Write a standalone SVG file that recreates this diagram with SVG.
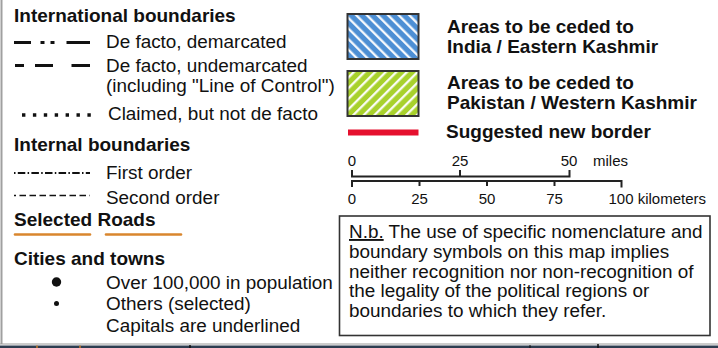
<svg xmlns="http://www.w3.org/2000/svg" width="718" height="348" viewBox="0 0 718 348">
<style>
text{font-family:"Liberation Sans",Arial,Helvetica,sans-serif;fill:#111}
.b{font-weight:bold;font-size:19px}
.r{font-size:18.9px}
.s{font-size:15px}
.ln{stroke:#111;fill:none}
.sc{stroke:#222;stroke-width:2;fill:none}
.road{stroke:#d9862e;stroke-width:2.6;stroke-linecap:round;fill:none}
</style>
<defs>
<pattern id="blueHatch" patternUnits="userSpaceOnUse" width="7.5" height="7.5" patternTransform="rotate(-45)">
<rect width="7.5" height="7.5" fill="#4d8fd4"/>
<line x1="1.2" y1="-1" x2="1.2" y2="9" stroke="#fff" stroke-width="2.2"/>
</pattern>
<pattern id="greenHatch" patternUnits="userSpaceOnUse" width="7.5" height="7.5" patternTransform="rotate(45)">
<rect width="7.5" height="7.5" fill="#a8d12c"/>
<line x1="1.2" y1="-1" x2="1.2" y2="9" stroke="#fff" stroke-width="2.2"/>
</pattern>
</defs>
<rect x="0" y="0" width="718" height="348" fill="#fff"/>
<g id="frame">
<line x1="1.5" y1="0" x2="1.5" y2="344" stroke="#a0a0a0" stroke-width="2"/>
<line x1="0" y1="344" x2="718" y2="344" stroke="#9a9a9a" stroke-width="1"/>
<rect x="0" y="345.5" width="718" height="2.5" fill="#2e3d50"/>
<line x1="37" y1="345.5" x2="37" y2="348" stroke="#c77a2a" stroke-width="1.5"/>
<line x1="80" y1="345.5" x2="80" y2="348" stroke="#c77a2a" stroke-width="1.5"/>
<line x1="190" y1="345" x2="190" y2="348" stroke="#111" stroke-width="1.5"/>
<line x1="530" y1="345" x2="530" y2="348" stroke="#111" stroke-width="1"/>
<line x1="598" y1="344" x2="598" y2="348" stroke="#111" stroke-width="1.5"/>
</g>
<g id="intl-heading"><text class="b" x="14" y="22">International boundaries</text></g>
<g id="intl-demarcated">
<g class="ln" stroke-width="3">
<line x1="14" y1="42.5" x2="31" y2="42.5"/>
<line x1="40.5" y1="42.5" x2="44.5" y2="42.5"/>
<line x1="50.5" y1="42.5" x2="54.5" y2="42.5"/>
<line x1="66.5" y1="42.5" x2="90" y2="42.5"/>
</g>
<text class="r" x="106" y="48">De facto, demarcated</text>
</g>
<g id="intl-undemarcated">
<g class="ln" stroke-width="3">
<line x1="15" y1="65.5" x2="24" y2="65.5"/>
<line x1="35" y1="65.5" x2="53" y2="65.5"/>
<line x1="71.5" y1="65.5" x2="90" y2="65.5"/>
</g>
<text class="r" x="106" y="71.5">De facto, undemarcated</text>
<text class="r" x="106" y="91.5">(including "Line of Control")</text>
</g>
<g id="intl-claimed">
<line class="ln" x1="22" y1="115" x2="91" y2="115" stroke-width="3.4" stroke-dasharray="3.4 7.5"/>
<text class="r" x="108" y="119.5">Claimed, but not de facto</text>
</g>
<g id="internal-heading"><text class="b" x="14" y="151">Internal boundaries</text></g>
<g id="internal-first">
<line class="ln" x1="14" y1="173" x2="90" y2="173" stroke-width="1.8" stroke-dasharray="1.5 2.3 7.5 2.3"/>
<text class="r" x="106" y="178.5">First order</text>
</g>
<g id="internal-second">
<line class="ln" x1="14" y1="195.5" x2="16" y2="195.5" stroke-width="1.3"/>
<line class="ln" x1="19.5" y1="195.5" x2="90" y2="195.5" stroke-width="1.3" stroke-dasharray="6.5 3.5"/>
<text class="r" x="106" y="203.5">Second order</text>
</g>
<g id="roads">
<text class="b" x="14" y="225.5">Selected Roads</text>
<line class="road" x1="15" y1="234.5" x2="90" y2="234.5"/>
<line class="road" x1="106" y1="234.5" x2="181" y2="234.5"/>
</g>
<g id="cities-heading"><text class="b" x="14" y="265">Cities and towns</text></g>
<g id="city-large">
<circle cx="56.5" cy="282" r="4.7" fill="#111"/>
<text class="r" x="106" y="288.5">Over 100,000 in population</text>
</g>
<g id="city-small">
<circle cx="56.5" cy="303.5" r="2.5" fill="#111"/>
<text class="r" x="106" y="309.5">Others (selected)</text>
</g>
<g id="capitals"><text class="r" x="106" y="331.5">Capitals are underlined</text></g>
<g id="india-area">
<rect x="347.5" y="14" width="71" height="45" fill="url(#blueHatch)" stroke="#333" stroke-width="2"/>
<text class="b" x="447" y="32.5">Areas to be ceded to</text>
<text class="b" x="447" y="52.5">India / Eastern Kashmir</text>
</g>
<g id="pakistan-area">
<rect x="347.5" y="71" width="71" height="45" fill="url(#greenHatch)" stroke="#333" stroke-width="2"/>
<text class="b" x="447" y="89">Areas to be ceded to</text>
<text class="b" x="447" y="108.5">Pakistan / Western Kashmir</text>
</g>
<g id="new-border">
<line x1="348" y1="132.5" x2="418.5" y2="132.5" stroke="#e5102e" stroke-width="6"/>
<text class="b" x="446" y="138">Suggested new border</text>
</g>
<g id="scale">
<path class="sc" d="M352 170V176.5H569.5V170M460 176.5V170"/>
<path class="sc" d="M352 187V181H621.5V187.5M419.5 181V186M487 181V186M554.5 181V186"/>
<g class="s" text-anchor="middle">
<text x="352" y="166">0</text>
<text x="460" y="166">25</text>
<text x="569" y="166">50</text>
<text x="352" y="203.5">0</text>
<text x="419.5" y="203.5">25</text>
<text x="487" y="203.5">50</text>
<text x="554.5" y="203.5">75</text>
</g>
<text class="s" x="593" y="166">miles</text>
<text class="s" x="608.5" y="203.5">100 kilometers</text>
</g>
<g id="note">
<rect x="339.5" y="216" width="370.5" height="119.5" fill="#fff" stroke="#333" stroke-width="1.6"/>
<text class="r" x="349" y="238"><tspan text-decoration="underline">N.b.</tspan> The use of specific nomenclature and</text>
<text class="r" x="349" y="257.8">boundary symbols on this map implies</text>
<text class="r" x="349" y="277.5">neither recognition nor non-recognition of</text>
<text class="r" x="349" y="297.3">the legality of the political regions or</text>
<text class="r" x="349" y="317">boundaries to which they refer.</text>
</g>
</svg>
